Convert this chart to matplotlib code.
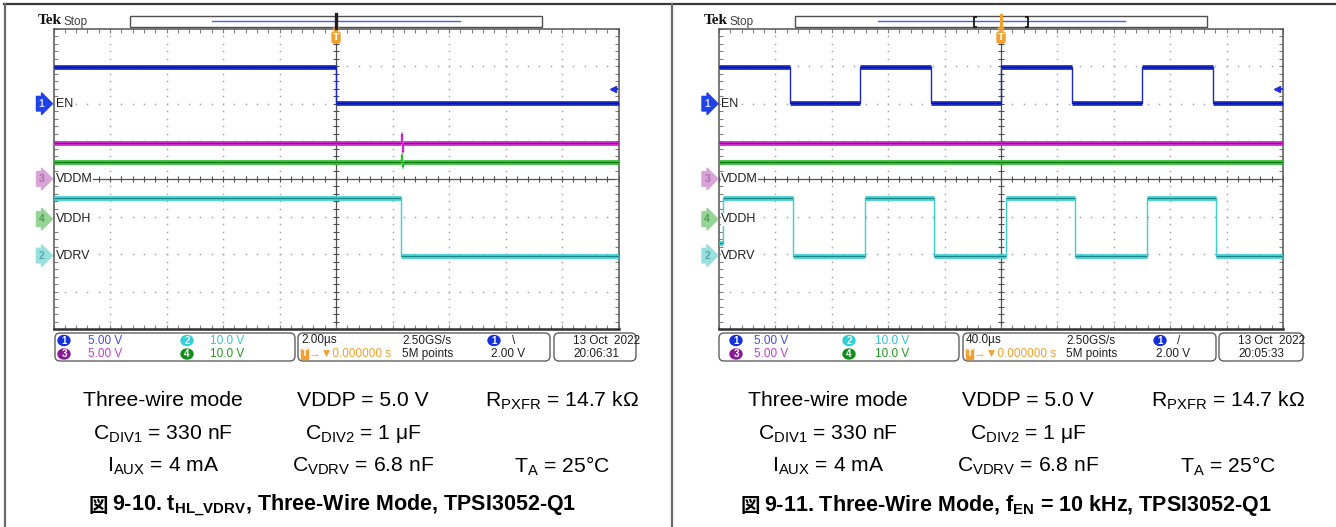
import matplotlib
matplotlib.use('Agg')
import matplotlib.pyplot as plt
from matplotlib.patches import Rectangle, FancyBboxPatch, Ellipse, Polygon
import numpy as np

plt.rcParams['mathtext.fontset'] = 'custom'
plt.rcParams['mathtext.rm'] = 'Liberation Sans'
plt.rcParams['mathtext.it'] = 'Liberation Sans:italic'
plt.rcParams['mathtext.bf'] = 'Liberation Sans:bold'

W, H = 1336, 527

# ---------------- data (scope divisions: x 0..10, y -4..4) ----------------
# Left: t_HL_VDRV, 2.00 us/div
left_en_edges = [5.0]
left_en_levels = [2.98, 2.01]
left_vdrv_edges = [6.15]
left_vdrv_levels = [-0.50, -2.04]
left_vddm_level = 0.96
left_vddh_level = 0.46
left_glitch_x = 6.15
left_vddm_glitch = [1.20, 0.74]
left_vddh_glitch = [0.64, 0.34]

# Right: f_EN = 10 kHz, 40.0 us/div
right_en_edges = [1.25, 2.5, 3.75, 5.0, 6.25, 7.5, 8.75]
right_en_levels = [2.98, 2.01, 2.98, 2.01, 2.98, 2.01, 2.98, 2.01]
right_vdrv_edges = [0.07, 1.31, 2.59, 3.81, 5.08, 6.31, 7.58, 8.81]
right_vdrv_levels = [-1.70, -0.50, -2.04, -0.50, -2.04, -0.50, -2.04, -0.50, -2.04]
right_vddm_level = 0.96
right_vddh_level = 0.45

channel_names = ['EN', 'VDDM', 'VDDH', 'VDRV']
channel_numbers = ['1', '3', '4', '2']
channel_offsets = [2.0, 0.0, -1.07, -2.04]
trigger_level = 2.39

scale_labels = ['5.00 V', '10.0 V', '5.00 V', '10.0 V']
timebase = ['2.00µs', '40.0µs']
sample_rate = '2.50GS/s'
record_len = '5M points'
trig_slope = ['\\', '/']
trig_volt = '2.00 V'
dates = ['13 Oct  2022', '13 Oct  2022']
times = ['20:06:31', '20:05:33']

captions = ['9-10. t$_{\\mathbf{HL\\_VDRV}}$, Three-Wire Mode, TPSI3052-Q1',
            '9-11. Three-Wire Mode, f$_{\\mathbf{EN}}$ = 10 kHz, TPSI3052-Q1']
cond_rows = [
    ['Three-wire mode', 'VDDP = 5.0 V', 'R$_{\\mathrm{PXFR}}$ = 14.7 kΩ'],
    ['C$_{\\mathrm{DIV1}}$ = 330 nF', 'C$_{\\mathrm{DIV2}}$ = 1 μF', ''],
    ['I$_{\\mathrm{AUX}}$ = 4 mA', 'C$_{\\mathrm{VDRV}}$ = 6.8 nF', 'T$_{\\mathrm{A}}$ = 25°C'],
]

# ---------------- colours ----------------
C_EN, C_EN_CORE = '#1a2ac0', '#0a0f60'
C_M, C_M_CORE = '#c82ac8', '#601060'
C_G, C_G_CORE = '#2ec02e', '#0c500c'
C_C, C_C_CORE = '#3cd0d4', '#106060'
marker_fc = ['#2040e8', '#d8a4d8', '#94d494', '#98e0e0']
marker_tc = ['#d0d8ff', '#a870a8', '#5a9a5a', '#5aa8a8']
circ_fc = ['#1530d8', '#30d0d8', '#8a1a9a', '#10901a']
circ_txt = ['#4848e8', '#30c8d0', '#c040c0', '#209a20']
ORANGE = '#f2a030'

NARROW = ['Liberation Sans Narrow', 'Liberation Sans', 'DejaVu Sans']

fig = plt.figure(figsize=(W / 100, H / 100), dpi=100)


def px_rect(x0, y0, x1, y1):
    return [x0 / W, 1 - y1 / H, (x1 - x0) / W, (y1 - y0) / H]


def draw_trace(ax, edges, levels, color, core, lw=3.4):
    xs = [0.0] + list(edges) + [10.0]
    sx, sy = [], []
    for i, lvl in enumerate(levels):
        sx += [xs[i], xs[i + 1]]
        sy += [lvl, lvl]
    ax.plot(sx, sy, color=color, lw=1.0, zorder=4)
    ax.hlines(levels, xs[:-1], xs[1:], color=color, lw=lw, zorder=3)
    ax.hlines(levels, xs[:-1], xs[1:], color=core, lw=0.6, zorder=4, alpha=0.8)


def draw_grid(ax):
    ax.set_xlim(0, 10)
    ax.set_ylim(-4, 4)
    ax.set_facecolor('none')
    mx = np.arange(0, 10.001, 0.2)
    my = np.arange(-4, 4.001, 0.2)
    for gx in range(1, 10):
        if gx != 5:
            ax.plot(np.full_like(my, gx), my, ls='none', marker='s', ms=1.1,
                    mew=0, color='#a8a8a8', zorder=1)
    for gy in range(-3, 4):
        if gy != 0:
            ax.plot(mx, np.full_like(mx, gy), ls='none', marker='s', ms=1.1,
                    mew=0, color='#a8a8a8', zorder=1)
    ax.axvline(5, color='#505050', lw=0.9, zorder=1)
    ax.axhline(0, color='#505050', lw=0.9, zorder=1)
    ax.plot(mx, np.zeros_like(mx), ls='none', marker='|', ms=5, mew=0.8,
            color='#505050', zorder=1)
    ax.plot(np.full_like(my, 5), my, ls='none', marker='_', ms=5, mew=0.8,
            color='#505050', zorder=1)
    ax.set_xticks(mx)
    ax.set_yticks(my)
    ax.tick_params(direction='in', length=3, width=0.8, color='#808080',
                   top=True, right=True, labelbottom=False, labelleft=False)
    for s in ax.spines.values():
        s.set_color('#555555')
        s.set_linewidth(1.1)
    ax.spines['bottom'].set_linewidth(1.8)
    ax.spines['bottom'].set_color('#303030')


def draw_channels(ax):
    for name, num, off, fc, tc in zip(channel_names, channel_numbers,
                                      channel_offsets, marker_fc, marker_tc):
        ax.text(-0.21, off, num, ha='center', va='center', fontsize=7.5,
                color=tc, clip_on=False, zorder=6, family=NARROW, fontweight='bold',
                bbox=dict(boxstyle='rarrow,pad=0.22', fc=fc, ec=fc))
        ax.text(0.04, off, name, ha='left', va='center', fontsize=9,
                color='#202020', family=NARROW, zorder=6,
                bbox=dict(fc='white', ec='none', pad=0.3))
    ax.plot([9.9], [trigger_level], marker='<', ms=5, color='#2030e0',
            clip_on=False, zorder=6)
    ax.plot([9.9, 9.98], [trigger_level, trigger_level], color='#2030e0',
            lw=1.4, clip_on=False, zorder=6)


# ---------------- scope axes ----------------
axL = fig.add_axes(px_rect(53.5, 28.5, 618.5, 329.3), zorder=1)
draw_grid(axL)
draw_trace(axL, left_en_edges, left_en_levels, C_EN, C_EN_CORE)
draw_trace(axL, left_vdrv_edges, left_vdrv_levels, C_C, C_C_CORE)
draw_trace(axL, [left_glitch_x, left_glitch_x + 0.02, left_glitch_x + 0.04],
           [left_vddm_level, left_vddm_glitch[0], left_vddm_glitch[1], left_vddm_level], C_M, C_M_CORE)
draw_trace(axL, [left_glitch_x, left_glitch_x + 0.02, left_glitch_x + 0.04],
           [left_vddh_level, left_vddh_glitch[0], left_vddh_glitch[1], left_vddh_level], C_G, C_G_CORE)
draw_channels(axL)

axR = fig.add_axes(px_rect(719, 28.5, 1283, 329.3), zorder=1)
draw_grid(axR)
draw_trace(axR, right_en_edges, right_en_levels, C_EN, C_EN_CORE)
draw_trace(axR, right_vdrv_edges, right_vdrv_levels, C_C, C_C_CORE)
draw_trace(axR, [], [right_vddm_level], C_M, C_M_CORE)
draw_trace(axR, [], [right_vddh_level], C_G, C_G_CORE)
draw_channels(axR)

# ---------------- overlay (pixel coordinates) ----------------
ov = fig.add_axes([0, 0, 1, 1], zorder=3)
ov.set_xlim(0, W)
ov.set_ylim(H, 0)
ov.axis('off')

# table borders
ov.plot([4, W], [4, 4], color='#3a3a3a', lw=1.6)
ov.plot([5, 5], [4, H], color='#6a6a6a', lw=1.6)
ov.plot([672, 672], [4, H], color='#6a6a6a', lw=1.6)

panels = [
    dict(tek=38, bar=(130, 542), blue=(212, 460), trig=336, right=False,
         box=[(55, 295), (298, 550), (554, 636)],
         c1=64, t1=88, c2=187, t2=210, s2=301, s2b=402, s2c=494, s2d=512, s2v=491,
         s3=573, col=[163, 363, 562], cap_kanji=89, cap_text=112),
    dict(tek=704, bar=(795, 1207), blue=(878, 1125), trig=1001, right=True,
         box=[(719, 959), (963, 1216), (1219, 1303)],
         c1=736, t1=754, c2=849, t2=875, s2=966, s2b=1066, s2c=1160, s2d=1177, s2v=1156,
         s3=1238, col=[828, 1028, 1228], cap_kanji=741, cap_text=764),
]

for i, p in enumerate(panels):
    # Tek Stop
    ov.text(p['tek'], 21, 'Tek', fontsize=11, fontweight='bold', family='Liberation Serif',
            ha='left', va='center', color='#101010')
    ov.text(p['tek'] + 25, 21.5, 'Stop', fontsize=8.5, family=NARROW, ha='left',
            va='center', color='#404040')
    # record bar
    b0, b1 = p['bar']
    ov.add_patch(Rectangle((b0, 16), b1 - b0, 11, fc='white', ec='#505050', lw=1))
    ov.plot(p['blue'], [21, 21], color='#4a60e8', lw=1.0)
    t = p['trig']
    if p['right']:
        ov.plot([976, 974, 974, 976], [16.5, 16.5, 26.5, 26.5], color='#151515', lw=1.3)
        ov.plot([1026, 1028, 1028, 1026], [16.5, 16.5, 26.5, 26.5], color='#151515', lw=1.3)
        ov.plot([t, t], [15, 27], color=ORANGE, lw=2.2)
    else:
        ov.plot([t, t], [14, 28], color='#202020', lw=2.4)
    ov.add_patch(Polygon([[t - 3, 28], [t + 3, 28], [t, 32]], closed=True, fc=ORANGE, ec=ORANGE))
    ov.add_patch(FancyBboxPatch((t - 4, 32), 8, 11, boxstyle='round,pad=0,rounding_size=2',
                                fc=ORANGE, ec=ORANGE))
    ov.text(t, 37.8, 'T', fontsize=6.5, color='white', ha='center', va='center', fontweight='bold')

    # status boxes
    for (x0, x1) in p['box']:
        ov.add_patch(FancyBboxPatch((x0, 333), x1 - x0, 28,
                                    boxstyle='round,pad=0,rounding_size=5',
                                    fc='white', ec='#606060', lw=1.0))
    r1, r2 = 340.5, 354
    for k, (cx, tx, yy) in enumerate([(p['c1'], p['t1'], r1), (p['c2'], p['t2'], r1),
                                      (p['c1'], p['t1'], r2), (p['c2'], p['t2'], r2)]):
        num = ['1', '2', '3', '4'][k]
        ov.add_patch(Ellipse((cx, yy), 12, 10, fc=circ_fc[k], ec=circ_fc[k]))
        ov.text(cx, yy + 0.3, num, fontsize=7, color='white', ha='center', va='center',
                family=NARROW, fontweight='bold')
        ov.text(tx, yy, scale_labels[k], fontsize=8.5, color=circ_txt[k],
                ha='left', va='center', family=NARROW)
    ov.text(p['s2'], r1, timebase[i], fontsize=8.5, color='#202020', ha='left',
            va='center', family=NARROW)
    ov.text(p['s2b'], r1, sample_rate, fontsize=8.5, color='#202020', ha='left',
            va='center', family=NARROW)
    ov.add_patch(Ellipse((p['s2c'], r1), 12, 10, fc=circ_fc[0], ec=circ_fc[0]))
    ov.text(p['s2c'], r1 + 0.3, '1', fontsize=7, color='white', ha='center', va='center',
            family=NARROW, fontweight='bold')
    ov.text(p['s2d'], r1, trig_slope[i], fontsize=8.5, color='#202020', ha='left',
            va='center', family=NARROW)
    ov.add_patch(Rectangle((p['s2'], r2 - 5), 7, 10, fc=ORANGE, ec=ORANGE))
    ov.text(p['s2'] + 3.5, r2, 'T', fontsize=6, color='white', ha='center', va='center',
            fontweight='bold')
    ov.text(p['s2'] + 8, r2, '→▼0.000000 s', fontsize=8.5, color=ORANGE, ha='left',
            va='center', family=NARROW)
    ov.text(p['s2b'], r2, record_len, fontsize=8.5, color='#202020', ha='left',
            va='center', family=NARROW)
    ov.text(p['s2v'], r2, trig_volt, fontsize=8.5, color='#202020', ha='left',
            va='center', family=NARROW)
    ov.text(p['s3'], r1, dates[i], fontsize=8.5, color='#202020', ha='left',
            va='center', family=NARROW)
    ov.text(p['s3'], r2, times[i], fontsize=8.5, color='#202020', ha='left',
            va='center', family=NARROW)

    # test conditions
    for row, yy in zip(cond_rows, [401, 434, 466]):
        for txt, cx in zip(row, p['col']):
            if txt:
                ov.text(cx, yy, txt, fontsize=15.2, family='Liberation Sans',
                        ha='center', va='center', color='#000000')
    # caption
    ov.text(p['cap_kanji'], 506, '図', fontsize=14, family='Noto Sans CJK JP',
            fontweight='bold', ha='left', va='center', color='#000000')
    ov.text(p['cap_text'], 506, captions[i], fontsize=15.5, family='Liberation Sans',
            fontweight='bold', ha='left', va='center', color='#000000')

fig.savefig('out.png', dpi=100)
